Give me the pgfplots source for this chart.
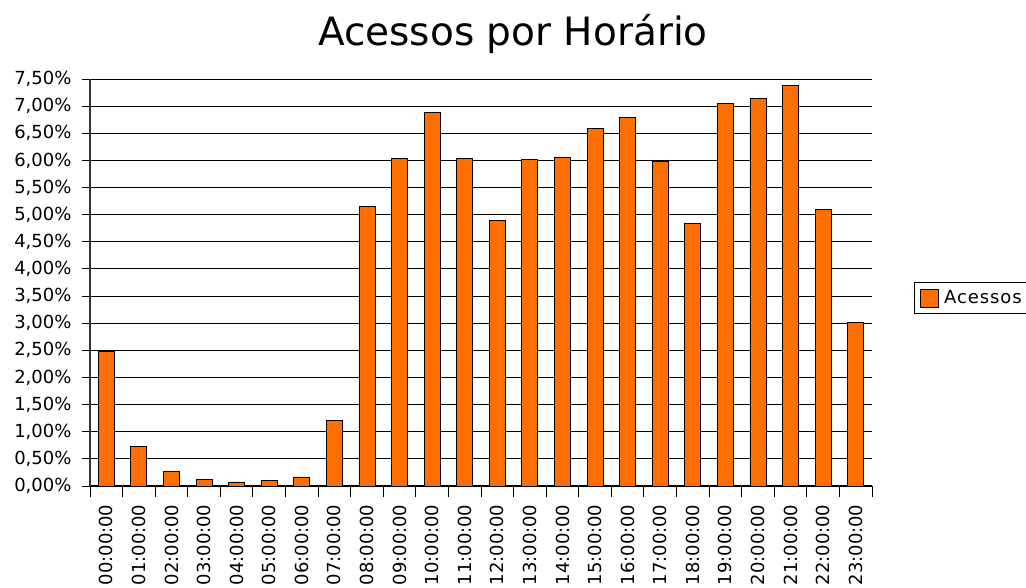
\documentclass[border=0pt]{standalone}
\usepackage{pgfplots}
\pgfplotsset{compat=1.18}
\usepackage{fontspec}
\setmainfont{DejaVu Sans}
\newfontfamily\legfont[LetterSpace=5]{DejaVu Sans}
\definecolor{barorange}{RGB}{255,111,0}
\pgfplotstableread{
h v
0 2.475
1 0.725
2 0.276
3 0.117
4 0.074
5 0.098
6 0.166
7 1.204
8 5.147
9 6.04
10 6.885
11 6.04
12 4.89
13 6.01
14 6.06
15 6.59
16 6.79
17 5.976
18 4.84
19 7.05
20 7.14
21 7.376
22 5.09
23 3.01
}\datatable
\begin{document}
\begin{tikzpicture}
\begin{axis}[
  at={(90pt,102pt)}, anchor=south west,
  scale only axis, width=782pt, height=407pt,
  xmin=-0.5, xmax=23.5, ymin=0, ymax=7.5,
  enlarge x limits=false,
  axis x line=bottom, axis y line=left,
  axis line style={-},
  x axis line style={black, line width=1pt},
  y axis line style={black!80, line width=1.6pt},
  ytick={0,0.5,1,1.5,2,2.5,3,3.5,4,4.5,5,5.5,6,6.5,7,7.5},
  ymajorgrids,
  grid style={black, line width=0.9pt},
  tick align=outside,
  major tick length=8pt,
  tick style={black, line width=0.9pt},
  yticklabel={\pgfmathprintnumber{\tick}\%},
  yticklabel style={font=\fontsize{18}{20}\selectfont, xshift=-7pt},
  yticklabel style={/pgf/number format/.cd, fixed, fixed zerofill, precision=2, use comma, assume math mode=true},
  xtick={0,...,23},
  xticklabels={00:00:00,01:00:00,02:00:00,03:00:00,04:00:00,05:00:00,06:00:00,07:00:00,08:00:00,09:00:00,10:00:00,11:00:00,12:00:00,13:00:00,14:00:00,15:00:00,16:00:00,17:00:00,18:00:00,19:00:00,20:00:00,21:00:00,22:00:00,23:00:00},
  xtick style={draw=none},
  xticklabel style={rotate=90, anchor=east, font=\fontsize{18}{20}\selectfont, xshift=-7pt},
  extra x ticks={-0.5,0.5,1.5,2.5,3.5,4.5,5.5,6.5,7.5,8.5,9.5,10.5,11.5,12.5,13.5,14.5,15.5,16.5,17.5,18.5,19.5,20.5,21.5,22.5,23.5},
  extra x tick labels={},
  extra x tick style={xtick style={draw=black}, major tick length=11pt, tick align=outside, grid=none},
  legend style={at={(1.0537,0.462)}, anchor=west, draw=black, line width=0.8pt,
    font=\legfont\fontsize{18}{20}\selectfont, inner xsep=6pt, inner ysep=6pt,
    /tikz/every odd column/.append style={column sep=3pt}},
  legend image code/.code={\draw[fill=barorange, draw=black, line width=0.8pt] (0pt,-9pt) rectangle (18pt,9pt);},
]
\addplot[ybar, bar width=16pt, fill=barorange, draw=black, line width=0.8pt] table[x=h, y=v] {\datatable};
\addlegendentry{Acessos}
\end{axis}
\node[anchor=base, font=\fontsize{39}{44}\selectfont] at (513pt,542pt) {Acessos por Horário};
\pgfresetboundingbox
\useasboundingbox (0,0) rectangle (1026pt,588pt);
\end{tikzpicture}
\end{document}
